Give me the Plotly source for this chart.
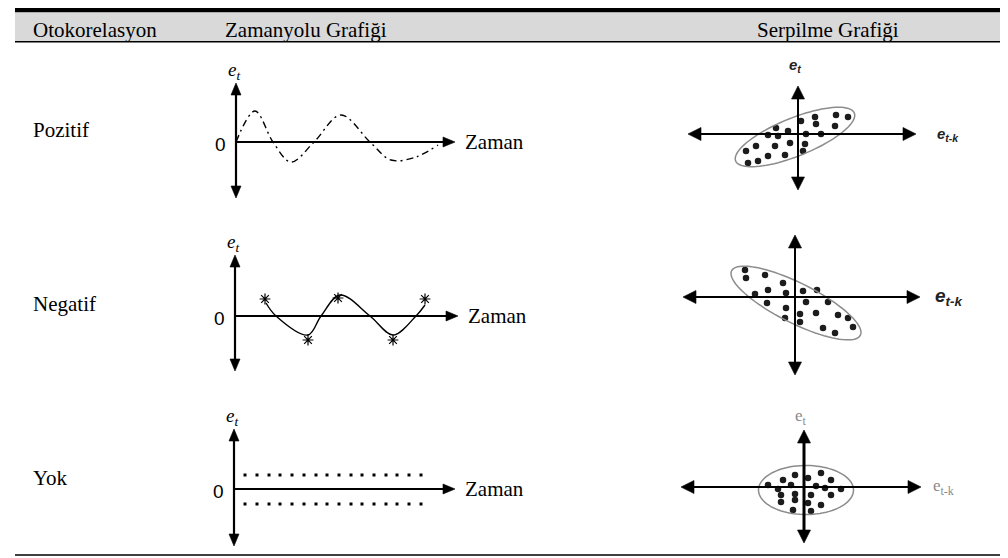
import numpy as np
import plotly.graph_objects as go

W, H = 1008, 558

# ---------------- data ----------------
header_labels = ["Otokorelasyon", "Zamanyolu Grafiği", "Serpilme Grafiği"]
row_labels = ["Pozitif", "Negatif", "Yok"]
time_axis_label = "Zaman"

# Pozitif: dash-dot residual path (t, e_t)
pos_t = [0, 19, 37, 55, 78, 105, 134, 155, 180, 202]
pos_e = [0, 31, 0, -20, 0, 27, 0, -18, -15, -3]

# Negatif: solid path with asterisks
neg_t = [31, 41, 73, 86, 105, 135, 158, 181, 190]
neg_e = [13, 0, -19, 0, 21, 0, -19, 0, 11]
neg_star_t = [30, 73, 103, 158, 190]
neg_star_e = [17, -24, 18, -24, 17]

# Yok: two dotted bands
yok_t = [11, 23, 35, 46, 58, 70, 82, 93, 105, 117, 128, 140, 152, 163, 175, 187]
yok_upper = [14] * len(yok_t)
yok_lower = [-15] * len(yok_t)

# scatter plots (e_{t-k}, e_t)
pos_sc_x = [38, 50, 17, 3, 18, 37, -22, -10, -30, -20, 8, 23, -42, -23, -8, 7, -52, -30, -13, 5, -40, -50]
pos_sc_y = [19, 17, 17, 13, 10, 8, 6, 3, -1, -2, 0, 0, -12, -12, -9, -10, -17, -22, -21, -17, -27, -29]
neg_sc_x = [-50, -49, -30, -12, -27, -40, -9, 8, 22, -28, 11, 33, -9, 5, 21, -10, 5, 43, 53, 28, 40, 58]
neg_sc_y = [27, 19, 22, 14, 7, 3, 4, 6, 7, -6, -5, -5, -11, -17, -16, -21, -25, -18, -21, -31, -36, -30]
yok_sc_x = [-21, -9, 4, 17, 27, -36, -26, -13, 12, 21, 37, 27, -23, -9, 7, -23, -9, 4, 17, -11, 7]
yok_sc_y = [7, 12, 9, 14, 7, 2, -2, 2, 1, -1, -2, -8, -8, -7, -8, -15, -13, -16, -18, -23, -24]

# ellipse outlines: (cx, cy, semi-major, semi-minor, angle deg)
ellipses = [(-3, -3, 64, 19, 22), (1, -6, 72, 20, -26.6), (2, -3, 47.5, 24.5, 0)]

# ---------------- geometry (1 axis unit = 1 px, y up) ----------------
panels = [
    (228, 134, (-40, 250), (-70, 80)),
    (227, 308, (-40, 250), (-70, 80)),
    (226, 481, (-40, 250), (-70, 80)),
    (790, 126, (-130, 180), (-85, 80)),
    (787, 289, (-130, 180), (-85, 80)),
    (796, 479, (-130, 180), (-75, 80)),
]
time_up = [59, 61, 60]
time_down = [56, 55, 57]
time_right = [219, 223, 221]
sc_up = [48, 62, 57]
sc_down = [56, 78, 56]
sc_left = [110, 112, 123]
sc_right = [118, 125, 117]

SERIF = "Liberation Serif, Times New Roman, DejaVu Serif, serif"
SANS = "Liberation Sans, Arial, sans-serif"


def sfx(i):
    return "" if i == 1 else str(i)


def px(x):
    return x / W


def py(y):
    return 1 - y / H


fig = go.Figure()
layout = dict(width=W, height=H, margin=dict(l=0, r=0, t=0, b=0),
              paper_bgcolor="white", plot_bgcolor="white", showlegend=False)
for i, (ox, oy, xr, yr) in enumerate(panels, 1):
    s = sfx(i)
    layout["xaxis" + s] = dict(domain=[px(ox + xr[0]), px(ox + xr[1])], range=list(xr),
                               visible=False, fixedrange=True, anchor="y" + s)
    layout["yaxis" + s] = dict(domain=[py(oy - yr[0]), py(oy - yr[1])], range=list(yr),
                               visible=False, fixedrange=True, anchor="x" + s)
fig.update_layout(**layout)


def ax_refs(i):
    s = sfx(i)
    return dict(xaxis="x" + s, yaxis="y" + s)


# time series traces
fig.add_trace(go.Scatter(x=pos_t, y=pos_e, mode="lines", **ax_refs(1), hoverinfo="skip",
                         line=dict(shape="spline", color="black", width=1.4, dash="7px,4px,2px,4px")))
fig.add_trace(go.Scatter(x=neg_t, y=neg_e, mode="lines", **ax_refs(2), hoverinfo="skip",
                         line=dict(shape="spline", color="black", width=1.4)))
fig.add_trace(go.Scatter(x=neg_star_t, y=neg_star_e, mode="markers", **ax_refs(2), hoverinfo="skip",
                         marker=dict(symbol="asterisk-open", size=9, color="black",
                                     line=dict(width=1.2, color="black"))))
for band in (yok_upper, yok_lower):
    fig.add_trace(go.Scatter(x=yok_t, y=band, mode="markers", **ax_refs(3), hoverinfo="skip",
                             marker=dict(symbol="square", size=3, color="black")))

# scatter traces
for i, (sx, sy) in zip((4, 5, 6), ((pos_sc_x, pos_sc_y), (neg_sc_x, neg_sc_y), (yok_sc_x, yok_sc_y))):
    fig.add_trace(go.Scatter(x=sx, y=sy, mode="markers", **ax_refs(i), hoverinfo="skip",
                             marker=dict(symbol="circle", size=6.5, color="#1c1c1c")))

shapes = []
# table rules
shapes.append(dict(type="rect", xref="paper", yref="paper", x0=px(7), x1=1, y0=py(4.5), y1=py(0),
                   fillcolor="black", line=dict(width=0)))
shapes.append(dict(type="rect", xref="paper", yref="paper", x0=px(7), x1=1, y0=py(33), y1=py(4.5),
                   fillcolor="#d9d9d9", line=dict(width=0)))
shapes.append(dict(type="line", xref="paper", yref="paper", x0=px(7), x1=1, y0=py(33.8), y1=py(33.8),
                   line=dict(color="black", width=1.6)))
shapes.append(dict(type="line", xref="paper", yref="paper", x0=px(7), x1=1, y0=py(547), y1=py(547),
                   line=dict(color="black", width=1.6)))

# ellipses
for i, (cx, cy, a, b, ang) in zip((4, 5, 6), ellipses):
    s = sfx(i)
    th = np.linspace(0, 2 * np.pi, 90)
    r = np.deg2rad(ang)
    ex = cx + a * np.cos(th) * np.cos(r) - b * np.sin(th) * np.sin(r)
    ey = cy + a * np.cos(th) * np.sin(r) + b * np.sin(th) * np.cos(r)
    path = "M " + " L ".join(f"{x:.2f},{y:.2f}" for x, y in zip(ex, ey)) + " Z"
    shapes.append(dict(type="path", path=path, xref="x" + s, yref="y" + s,
                       line=dict(color="#8c8c8c", width=1.5)))


def arrow(i, dx, dy, L, w, hl, hw):
    """axis arrow from origin along (dx, dy): shaft line + filled head"""
    s = sfx(i)
    tx, ty = dx * L, dy * L
    bx, by = dx * (L - hl), dy * (L - hl)
    nx, ny = -dy, dx
    shaft = dict(type="line", xref="x" + s, yref="y" + s, x0=0, y0=0,
                 x1=dx * (L - hl * 0.5), y1=dy * (L - hl * 0.5), line=dict(color="black", width=w))
    head = dict(type="path", xref="x" + s, yref="y" + s, fillcolor="black",
                line=dict(color="black", width=0.6),
                path=f"M {tx},{ty} L {bx + nx * hw},{by + ny * hw} L {bx - nx * hw},{by - ny * hw} Z")
    return [shaft, head]


for k in range(3):
    i = k + 1
    shapes += arrow(i, 0, 1, time_up[k], 2.2, 12, 5)
    shapes += arrow(i, 0, -1, time_down[k], 2.2, 12, 5)
    shapes += arrow(i, 1, 0, time_right[k], 2.2, 12, 5)

for k in range(3):
    i = k + 4
    vw = 3.0 if k == 2 else 2.0
    shapes += arrow(i, 0, 1, sc_up[k], vw, 13, 6.5)
    shapes += arrow(i, 0, -1, sc_down[k], vw, 13, 6.5)
    shapes += arrow(i, -1, 0, sc_left[k], 2.0, 13, 6.5)
    shapes += arrow(i, 1, 0, sc_right[k], 2.0, 13, 6.5)

fig.update_layout(shapes=shapes)

annotations = []
for k in range(3):
    s = sfx(k + 1)
    annotations.append(dict(x=-8, y=-2, xref="x" + s, yref="y" + s, text="0", showarrow=False,
                            xanchor="right", yanchor="middle", font=dict(family=SANS, size=19, color="black")))
    annotations.append(dict(x=time_right[k] + 8, y=0, xref="x" + s, yref="y" + s, text=time_axis_label,
                            showarrow=False, xanchor="left", yanchor="middle",
                            font=dict(family=SERIF, size=21, color="black")))
    annotations.append(dict(x=-2, y=time_up[k] + 12, xref="x" + s, yref="y" + s,
                            text="<i>e<sub>t</sub></i>", showarrow=False, xanchor="center", yanchor="middle",
                            font=dict(family=SERIF, size=19, color="black")))

annotations += [
    dict(x=-3, y=69, xref="x4", yref="y4", text="<b><i>e<sub>t</sub></i></b>", showarrow=False,
         font=dict(family=SANS, size=15, color="#222")),
    dict(x=137, y=0, xref="x4", yref="y4", text="<b><i>e<sub>t-k</sub></i></b>", showarrow=False,
         xanchor="left", font=dict(family=SANS, size=15, color="#222")),
    dict(x=138, y=0, xref="x5", yref="y5", text="<b><i>e<sub>t-k</sub></i></b>", showarrow=False,
         xanchor="left", font=dict(family=SANS, size=19, color="#222")),
    dict(x=-3, y=70, xref="x6", yref="y6", text="e<sub>t</sub>", showarrow=False,
         font=dict(family=SERIF, size=17, color="#8a8a8a")),
    dict(x=127, y=0, xref="x6", yref="y6", text="e<sub>t-k</sub>", showarrow=False,
         xanchor="left", font=dict(family=SERIF, size=17, color="#8a8a8a")),
]

# table text
for txt, x in zip(header_labels, (23, 215, 747)):
    annotations.append(dict(x=px(x), y=py(22), xref="paper", yref="paper", text=txt, showarrow=False,
                            xanchor="left", yanchor="middle", font=dict(family=SERIF, size=21, color="black")))
for txt, y in zip(row_labels, (122, 296, 470)):
    annotations.append(dict(x=px(23), y=py(y), xref="paper", yref="paper", text=txt, showarrow=False,
                            xanchor="left", yanchor="middle", font=dict(family=SERIF, size=21, color="black")))

fig.update_layout(annotations=annotations)
fig.write_html("out.html")
